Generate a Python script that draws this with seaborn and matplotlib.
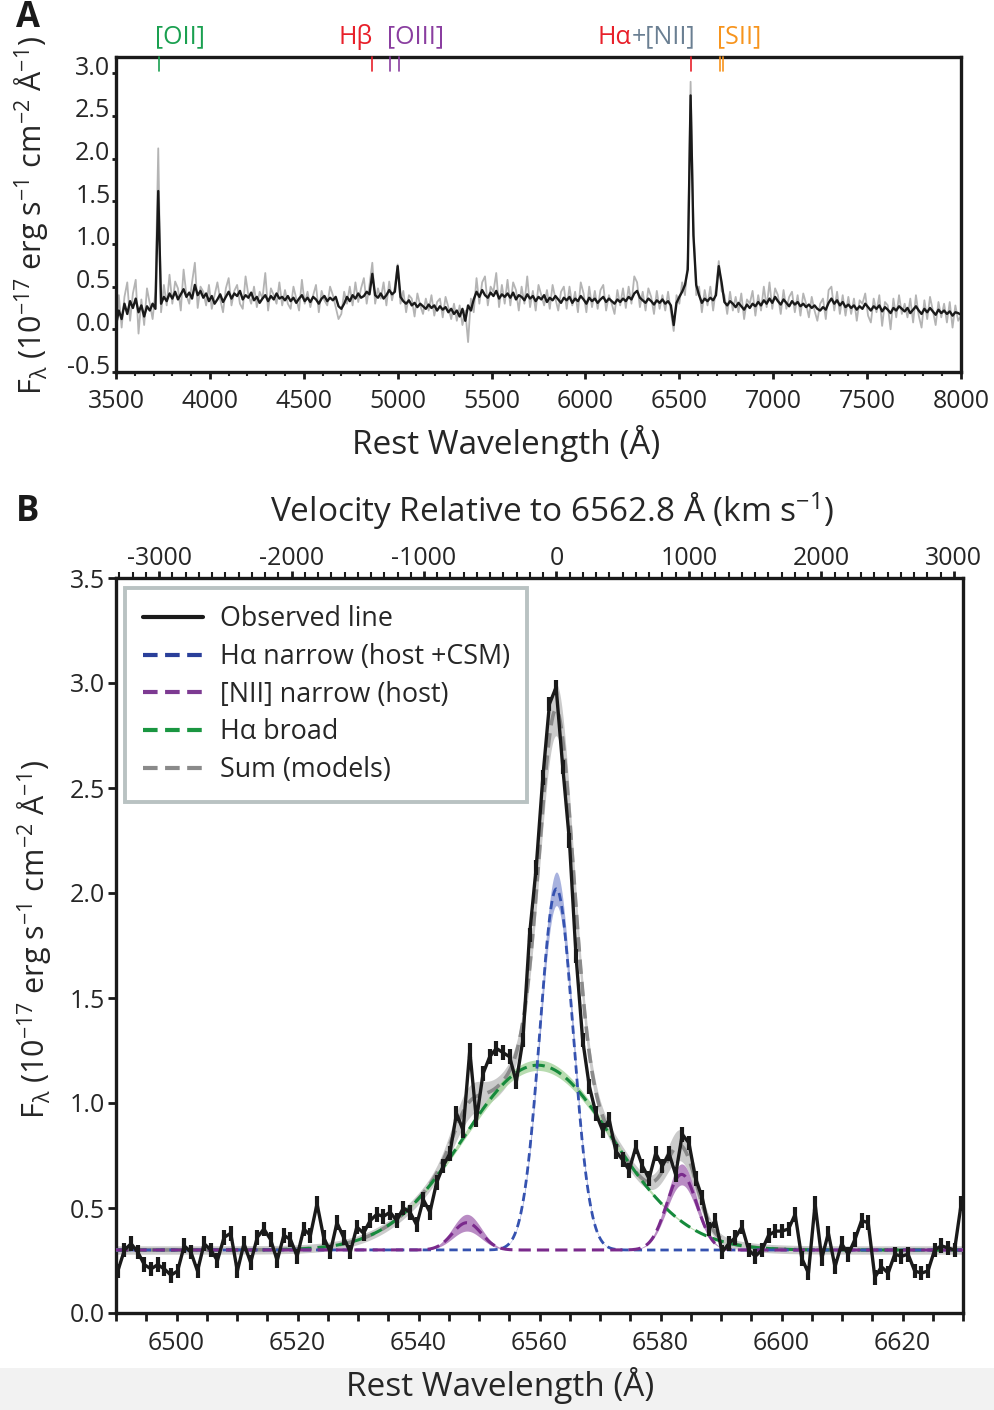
import numpy as np
import pandas as pd
import matplotlib
matplotlib.use("Agg")
import matplotlib.pyplot as plt
import seaborn as sns
from matplotlib.lines import Line2D
from matplotlib.patches import Rectangle
import matplotlib.transforms as mtransforms
from matplotlib.ticker import MultipleLocator

# ---------------- Panel A data (full spectrum) ----------------
specA_range = (3500, 8000)
specA_smooth = [
    0.05, 0.22, 0.12, 0.30, 0.18, 0.33, 0.25, 0.36, 0.20, 0.28, 0.15, 0.27, 0.22, 0.30, 0.24, 1.62, 0.30, 0.38, 0.33, 0.42,
    0.36, 0.44, 0.35, 0.41, 0.47, 0.38, 0.43, 0.36, 0.52, 0.40, 0.45, 0.37, 0.42, 0.33, 0.39, 0.30, 0.35, 0.41, 0.32, 0.38,
    0.44, 0.36, 0.42, 0.39, 0.45, 0.35, 0.40, 0.37, 0.43, 0.34, 0.38, 0.31, 0.36, 0.40, 0.33, 0.39, 0.35, 0.42, 0.36, 0.38,
    0.34, 0.39, 0.33, 0.37, 0.31, 0.36, 0.40, 0.33, 0.37, 0.32, 0.38, 0.35, 0.30, 0.36, 0.39, 0.33, 0.37, 0.34, 0.38, 0.27,
    0.24, 0.30, 0.38, 0.33, 0.40, 0.36, 0.42, 0.37, 0.39, 0.44, 0.41, 0.65, 0.40, 0.37, 0.42, 0.36, 0.40, 0.46, 0.41, 0.44,
    0.74, 0.38, 0.33, 0.30, 0.34, 0.28, 0.31, 0.26, 0.30, 0.27, 0.24, 0.29, 0.25, 0.28, 0.22, 0.27, 0.23, 0.26, 0.20, 0.24,
    0.18, 0.22, 0.15, 0.24, 0.10, 0.28, 0.22, 0.35, 0.44, 0.38, 0.46, 0.40, 0.37, 0.43, 0.39, 0.45, 0.36, 0.41, 0.38, 0.42,
    0.37, 0.43, 0.35, 0.40, 0.38, 0.34, 0.41, 0.36, 0.39, 0.33, 0.38, 0.35, 0.40, 0.32, 0.37, 0.34, 0.39, 0.35, 0.31, 0.37,
    0.34, 0.38, 0.31, 0.36, 0.33, 0.39, 0.35, 0.30, 0.37, 0.33, 0.36, 0.31, 0.35, 0.38, 0.32, 0.36, 0.33, 0.30, 0.35, 0.32,
    0.36, 0.33, 0.38, 0.35, 0.42, 0.45, 0.37, 0.34, 0.31, 0.36, 0.33, 0.29, 0.34, 0.31, 0.35, 0.30, 0.33, 0.28, 0.05, 0.31,
    0.38, 0.44, 0.52, 0.70, 2.74, 1.10, 0.52, 0.40, 0.31, 0.36, 0.33, 0.37, 0.34, 0.40, 0.74, 0.55, 0.32, 0.28, 0.33, 0.30,
    0.26, 0.31, 0.27, 0.23, 0.29, 0.25, 0.30, 0.27, 0.32, 0.28, 0.34, 0.30, 0.36, 0.31, 0.38, 0.33, 0.29, 0.35, 0.31, 0.27,
    0.33, 0.29, 0.32, 0.27, 0.30, 0.26, 0.29, 0.25, 0.28, 0.24, 0.22, 0.26, 0.23, 0.31, 0.36, 0.30, 0.34, 0.28, 0.32, 0.26,
    0.29, 0.25, 0.28, 0.23, 0.27, 0.24, 0.30, 0.26, 0.22, 0.27, 0.24, 0.28, 0.21, 0.26, 0.23, 0.19, 0.25, 0.22, 0.27, 0.24,
    0.21, 0.25, 0.19, 0.23, 0.27, 0.22, 0.18, 0.24, 0.20, 0.25, 0.21, 0.17, 0.23, 0.19, 0.22, 0.18, 0.21, 0.16, 0.20, 0.19,
    0.17,
]
specA_raw = [
    -0.12, 0.40, 0.02, 0.38, 0.55, 0.10, 0.42, 0.58, -0.05, 0.35, 0.05, 0.48, 0.30, 0.12, 0.44, 2.12, 0.20, 0.52, 0.28, 0.64,
    0.30, 0.56, 0.48, 0.22, 0.70, 0.40, 0.30, 0.55, 0.78, 0.25, 0.50, 0.44, 0.28, 0.52, 0.24, 0.40, 0.55, 0.35, 0.20, 0.48,
    0.60, 0.28, 0.45, 0.52, 0.30, 0.24, 0.62, 0.40, 0.30, 0.50, 0.26, 0.44, 0.36, 0.66, 0.22, 0.48, 0.40, 0.30, 0.55, 0.28,
    0.46, 0.30, 0.24, 0.50, 0.36, 0.22, 0.58, 0.30, 0.44, 0.26, 0.40, 0.52, 0.20, 0.45, 0.34, 0.28, 0.50, 0.40, 0.26, 0.12,
    0.18, 0.44, 0.30, 0.50, 0.28, 0.55, 0.32, 0.48, 0.60, 0.30, 0.52, 0.78, 0.30, 0.48, 0.36, 0.55, 0.28, 0.56, 0.34, 0.50,
    0.76, 0.30, 0.45, 0.20, 0.40, 0.36, 0.15, 0.42, 0.28, 0.18, 0.36, 0.22, 0.40, 0.16, 0.32, 0.36, 0.14, 0.38, 0.26, 0.12,
    0.30, 0.10, 0.28, 0.05, 0.22, -0.15, 0.36, 0.20, 0.60, 0.30, 0.55, 0.62, 0.28, 0.50, 0.44, 0.66, 0.26, 0.52, 0.30, 0.58,
    0.28, 0.55, 0.46, 0.22, 0.50, 0.30, 0.62, 0.26, 0.45, 0.22, 0.52, 0.40, 0.28, 0.46, 0.24, 0.52, 0.36, 0.22, 0.44, 0.50,
    0.24, 0.50, 0.28, 0.44, 0.20, 0.55, 0.42, 0.20, 0.50, 0.26, 0.45, 0.24, 0.46, 0.52, 0.22, 0.40, 0.30, 0.18, 0.46, 0.28,
    0.48, 0.25, 0.50, 0.30, 0.62, 0.55, 0.26, 0.44, 0.22, 0.48, 0.38, 0.18, 0.45, 0.24, 0.40, 0.22, 0.44, 0.20, -0.02, 0.40,
    0.30, 0.55, 0.40, 0.82, 2.90, 1.25, 0.40, 0.50, 0.20, 0.46, 0.28, 0.50, 0.22, 0.48, 0.80, 0.45, 0.40, 0.18, 0.44, 0.22,
    0.38, 0.20, 0.42, 0.12, 0.35, 0.30, 0.45, 0.16, 0.40, 0.22, 0.50, 0.26, 0.55, 0.24, 0.48, 0.40, 0.18, 0.46, 0.24, 0.38,
    0.44, 0.20, 0.40, 0.16, 0.42, 0.30, 0.14, 0.38, 0.22, 0.10, 0.30, 0.36, 0.12, 0.46, 0.50, 0.22, 0.44, 0.18, 0.40, 0.16,
    0.38, 0.18, 0.36, 0.10, 0.34, 0.30, 0.42, 0.16, 0.08, 0.36, 0.20, 0.40, 0.04, 0.32, 0.28, 0.00, 0.36, 0.14, 0.40, 0.18,
    0.30, 0.14, 0.36, 0.08, 0.40, 0.16, 0.02, 0.34, 0.12, 0.38, 0.22, 0.05, 0.32, 0.14, 0.30, 0.08, 0.32, 0.02, 0.28, 0.10,
    0.16,
]
# emission-line markers: (wavelength, colour)
line_marks_wave = [3727, 4861, 4959, 5007, 6563, 6716, 6731]
line_marks_color = ["#1aa050", "#e8202a", "#8a3ea0", "#8a3ea0", "#e8202a", "#f7941d", "#f7941d"]
line_label_text = ["[OII]", "H\u03b2", "[OIII]", "+[NII]", "[SII]"]
line_label_wave = [3708, 4869, 4943, 6583, 6700]
line_label_ha = ["left", "right", "left", "right", "left"]
line_label_color = ["#1aa050", "#e8202a", "#8a3ea0", "#6a7f92", "#f7941d"]

# ---------------- Panel B data (H-alpha region) ----------------
obs_range = (6490.3, 6629.7)
obs_flux = [
    0.20, 0.30, 0.33, 0.29, 0.23, 0.21, 0.23, 0.21, 0.18, 0.20,
    0.32, 0.29, 0.20, 0.33, 0.30, 0.25, 0.36, 0.38, 0.20, 0.33,
    0.24, 0.36, 0.40, 0.35, 0.25, 0.37, 0.35, 0.27, 0.40, 0.37,
    0.52, 0.36, 0.29, 0.43, 0.36, 0.29, 0.41, 0.38, 0.44, 0.47,
    0.46, 0.48, 0.44, 0.50, 0.48, 0.42, 0.54, 0.48, 0.62, 0.70,
    0.76, 0.95, 0.87, 1.25, 0.92, 1.14, 1.22, 1.26, 1.24, 1.22,
    1.10, 1.30, 1.80, 2.12, 2.55, 2.90, 2.98, 2.60, 2.25, 1.70,
    1.30, 1.08, 0.95, 0.87, 0.92, 0.77, 0.73, 0.68, 0.79, 0.70,
    0.64, 0.76, 0.70, 0.76, 0.66, 0.85, 0.81, 0.64, 0.55, 0.40,
    0.44, 0.29, 0.33, 0.36, 0.41, 0.30, 0.27, 0.30, 0.37, 0.39,
    0.39, 0.40, 0.47, 0.26, 0.19, 0.52, 0.26, 0.38, 0.22, 0.33,
    0.28, 0.35, 0.44, 0.43, 0.17, 0.22, 0.19, 0.28, 0.27, 0.28,
    0.20, 0.19, 0.20, 0.30, 0.32, 0.31, 0.30, 0.52,
]
obs_err = 0.035
continuum = 0.30
# Gaussian model components: centre (A), amplitude, sigma (A), amplitude uncertainty
ha_narrow = dict(center=6562.8, amp=1.72, sigma=2.75, damp=0.08)
nii_a = dict(center=6548.0, amp=0.13, sigma=2.4, damp=0.04)
nii_b = dict(center=6583.5, amp=0.36, sigma=2.5, damp=0.05)
ha_broad = dict(center=6559.7, amp=0.88, sigma=12.3, damp=0.025)
ha_rest = 6562.8
c_kms = 299792.458

# ---------------- style ----------------
sns.set_theme(style="ticks")
plt.rcParams["font.family"] = ["Open Sans", "DejaVu Sans"]
plt.rcParams["mathtext.default"] = "regular"
plt.rcParams["axes.unicode_minus"] = False

fig = plt.figure(figsize=(9.94, 14.10), dpi=100)
fig.patch.set_facecolor("white")
fig.add_artist(Rectangle((0, 0), 1, 42 / 1410, transform=fig.transFigure,
                         facecolor="#f2f2f2", edgecolor="none", zorder=-10))

axA = fig.add_axes([116 / 994, 1 - 372 / 1410, 845 / 994, 315 / 1410])
axB = fig.add_axes([116 / 994, 1 - 1313 / 1410, 847 / 994, 735 / 1410])

SPINE_W = 2.4
TICK_FS = 18
LABEL_FS = 24
YLABEL_FS = 22
INK = "#1a1a1a"

# ---------------- Panel A ----------------
waveA = np.linspace(specA_range[0], specA_range[1], len(specA_smooth))
waveA_raw = np.linspace(specA_range[0], specA_range[1], len(specA_raw))
dfA = pd.DataFrame({"wave": waveA, "flux": specA_smooth})
dfA_raw = pd.DataFrame({"wave": waveA_raw, "flux": specA_raw})
sns.lineplot(data=dfA_raw, x="wave", y="flux", ax=axA, color="#b4b4b4", lw=1.3,
             estimator=None, sort=False, zorder=2)
sns.lineplot(data=dfA, x="wave", y="flux", ax=axA, color=INK, lw=1.7,
             estimator=None, sort=False, zorder=3)

axA.set_xlim(3500, 8000)
axA.set_ylim(-0.5, 3.19)
axA.set_xticks(np.arange(3500, 8001, 500))
axA.xaxis.set_minor_locator(MultipleLocator(100))
axA.set_yticks(np.arange(-0.5, 3.01, 0.5))
axA.set_yticklabels([f"{v:.1f}" for v in np.arange(-0.5, 3.01, 0.5)])
axA.tick_params(axis="both", which="major", labelsize=TICK_FS, width=2, length=5,
                direction="out", pad=7, color=INK)
axA.tick_params(axis="y", pad=1, length=3)
axA.tick_params(axis="x", which="minor", width=1.5, length=3, direction="out")
off = mtransforms.ScaledTranslation(0, 8 / 100, fig.dpi_scale_trans)
for lab in axA.get_yticklabels():
    lab.set_transform(lab.get_transform() + off)
for sp in axA.spines.values():
    sp.set_linewidth(SPINE_W)
    sp.set_color(INK)

trA = mtransforms.blended_transform_factory(axA.transData, axA.transAxes)
for w, col in zip(line_marks_wave, line_marks_color):
    axA.plot([w, w], [0.955, 1.0], transform=trA, color=col, lw=1.2, zorder=4, clip_on=False)
txt_objs = []
for t, w, ha, col in zip(line_label_text, line_label_wave, line_label_ha, line_label_color):
    txt_objs.append(axA.text(w, 1.063, t, transform=trA, ha=ha, va="center",
                             fontsize=18, color=col))
nii_txt = txt_objs[3]
axA.annotate("H\u03b1", xy=(0, 0.5), xycoords=nii_txt, ha="right", va="center",
             fontsize=18, color="#e8202a")

ylab = "F$_\\lambda$ (10$^{-17}$ erg s$^{-1}$ cm$^{-2}$ \u00c5$^{-1}$)"
axA.set_xlabel("Rest Wavelength (\u00c5)", fontsize=LABEL_FS)
axA.xaxis.set_label_coords(0.4615, -0.2254)
axA.xaxis.label.set_va("center")
axA.set_ylabel(ylab, fontsize=YLABEL_FS)
axA.yaxis.set_label_coords(-0.0994, 0.498)
axA.yaxis.label.set_va("center")

# ---------------- Panel B ----------------
waveB = np.linspace(obs_range[0], obs_range[1], len(obs_flux))
grid = np.linspace(6490, 6630, 1401)


def gauss(p, amp):
    return amp * np.exp(-0.5 * ((grid - p["center"]) / p["sigma"]) ** 2)


narrow_mid = continuum + gauss(ha_narrow, ha_narrow["amp"])
narrow_lo = continuum + gauss(ha_narrow, ha_narrow["amp"] - ha_narrow["damp"])
narrow_hi = continuum + gauss(ha_narrow, ha_narrow["amp"] + ha_narrow["damp"])
nii_mid = continuum + gauss(nii_a, nii_a["amp"]) + gauss(nii_b, nii_b["amp"])
nii_lo = continuum + gauss(nii_a, nii_a["amp"] - nii_a["damp"]) + gauss(nii_b, nii_b["amp"] - nii_b["damp"])
nii_hi = continuum + gauss(nii_a, nii_a["amp"] + nii_a["damp"]) + gauss(nii_b, nii_b["amp"] + nii_b["damp"])
broad_mid = continuum + gauss(ha_broad, ha_broad["amp"])
broad_lo = continuum + gauss(ha_broad, ha_broad["amp"] - ha_broad["damp"])
broad_hi = continuum + gauss(ha_broad, ha_broad["amp"] + ha_broad["damp"])
sum_mid = narrow_mid + nii_mid + broad_mid - 2 * continuum
sum_lo = narrow_lo + nii_lo + broad_lo - 2 * continuum - 0.02
sum_hi = narrow_hi + nii_hi + broad_hi - 2 * continuum + 0.02

axB.fill_between(grid, sum_lo, sum_hi, color="#a9a9a9", alpha=0.6, lw=0, zorder=2)
axB.fill_between(grid, broad_lo, broad_hi, color="#a6d49c", alpha=0.8, lw=0, zorder=2)
axB.fill_between(grid, narrow_lo, narrow_hi, color="#6f7fc8", alpha=0.6, lw=0, zorder=2)
axB.fill_between(grid, nii_lo, nii_hi, color="#a266b0", alpha=0.75, lw=0, zorder=2)

models = pd.DataFrame({"wave": grid, "sum": sum_mid, "broad": broad_mid,
                       "narrow": narrow_mid, "nii": nii_mid})
sns.lineplot(data=models, x="wave", y="sum", ax=axB, color="#8a8a8a", lw=2.6,
             linestyle=(0, (4, 2.2)), estimator=None, zorder=3)
sns.lineplot(data=models, x="wave", y="broad", ax=axB, color="#168a3c", lw=2.2,
             linestyle=(0, (4, 2)), estimator=None, zorder=4)
sns.lineplot(data=models, x="wave", y="narrow", ax=axB, color="#3552b0", lw=2.0,
             linestyle=(0, (3, 1.8)), estimator=None, zorder=4)
sns.lineplot(data=models, x="wave", y="nii", ax=axB, color="#7a2a8c", lw=2.2,
             linestyle=(0, (4, 2)), estimator=None, zorder=5)

dfB = pd.DataFrame({"wave": waveB, "flux": obs_flux})
sns.lineplot(data=dfB, x="wave", y="flux", ax=axB, color=INK, lw=2.4,
             estimator=None, sort=False, zorder=6)
axB.errorbar(dfB["wave"], dfB["flux"], yerr=obs_err, fmt="none", ecolor=INK,
             elinewidth=3.0, capsize=0, zorder=6)

axB.set_xlim(6490, 6630)
axB.set_ylim(0, 3.5)
axB.set_xticks(np.arange(6500, 6621, 20))
axB.xaxis.set_minor_locator(MultipleLocator(5))
axB.set_yticks(np.arange(0, 3.51, 0.5))
axB.set_yticklabels([f"{v:.1f}" for v in np.arange(0, 3.51, 0.5)])
axB.tick_params(axis="both", which="major", labelsize=TICK_FS, width=2, length=6,
                direction="out", pad=7, color=INK)
axB.tick_params(axis="x", which="minor", width=2, length=6, direction="out", color=INK)
axB.tick_params(axis="y", pad=2)
for sp in axB.spines.values():
    sp.set_linewidth(SPINE_W)
    sp.set_color(INK)
axB.set_xlabel("Rest Wavelength (\u00c5)", fontsize=LABEL_FS)
axB.xaxis.set_label_coords(0.4534, -0.098)
axB.xaxis.label.set_va("center")
axB.set_ylabel(ylab, fontsize=YLABEL_FS)
axB.yaxis.set_label_coords(-0.0956, 0.5075)
axB.yaxis.label.set_va("center")

# velocity axis on top
axV = axB.twiny()
vlim = [(w - ha_rest) / ha_rest * c_kms for w in axB.get_xlim()]
axV.set_xlim(*vlim)
axV.set_xticks(np.arange(-3000, 3001, 1000))
axV.set_xticklabels([f"{v:d}" for v in range(-3000, 3001, 1000)])
axV.xaxis.set_minor_locator(MultipleLocator(100))
axV.tick_params(axis="x", which="major", labelsize=TICK_FS, width=2, length=5,
                direction="out", pad=0, color=INK)
axV.tick_params(axis="x", which="minor", width=1.5, length=4, direction="out", color=INK)
for sp in axV.spines.values():
    sp.set_visible(False)
axV.set_xlabel("Velocity Relative to 6562.8 \u00c5 (km s$^{-1}$)", fontsize=LABEL_FS)
axV.xaxis.set_label_coords(0.5148, 1.0912)
axV.xaxis.label.set_va("center")

# legend
handles = [
    Line2D([], [], color=INK, lw=3.0),
    Line2D([], [], color="#2a3f9a", lw=3.0, linestyle=(0, (3.5, 1.8))),
    Line2D([], [], color="#7d3a92", lw=3.0, linestyle=(0, (3.5, 1.8))),
    Line2D([], [], color="#1a9641", lw=3.0, linestyle=(0, (3.5, 1.8))),
    Line2D([], [], color="#8a8a8a", lw=3.0, linestyle=(0, (3.5, 1.8))),
]
labels = ["Observed line", "H\u03b1 narrow (host +CSM)", "[NII] narrow (host)",
          "H\u03b1 broad", "Sum (models)"]
leg = axB.legend(handles, labels, loc="upper left", bbox_to_anchor=(0.0106, 0.987),
                 borderaxespad=0, fontsize=19.4, frameon=True, fancybox=False,
                 handlelength=2.25, handletextpad=0.6, labelspacing=0.36,
                 borderpad=0.66)
leg.get_frame().set_edgecolor("#b9c2c2")
leg.get_frame().set_linewidth(2.8)
leg.get_frame().set_facecolor("white")
leg.get_frame().set_alpha(1)
leg.set_zorder(10)

# panel letters
fig.text(28 / 994, 1 - 18 / 1410, "A", ha="center", va="center", fontsize=25,
         fontweight="bold", color=INK)
fig.text(28 / 994, 1 - 512 / 1410, "B", ha="center", va="center", fontsize=25,
         fontweight="bold", color=INK)

fig.savefig("out.png", dpi=100)
